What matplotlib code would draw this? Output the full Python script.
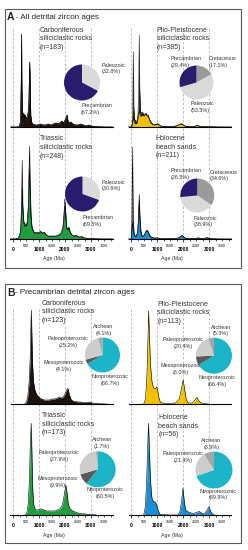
import matplotlib.pyplot as plt
from matplotlib.patches import Rectangle

plt.rcParams['font.family'] = ['Liberation Sans', 'DejaVu Sans']

W, H = 248, 550

# ---------------- datos: panel A (todas las edades) ----------------
# alturas en pixeles por encima de la linea base
carbA_age = [-100, 150, 250, 290, 315, 327, 340, 360, 390, 415, 440, 470, 500, 540, 580, 610, 630, 646, 660, 680,
             710, 760, 850, 950, 1050, 1150, 1250, 1350, 1450, 1550, 1650, 1720, 1800, 1880, 1950, 2000, 2040, 2080,
             2110, 2160, 2230, 2300, 2400, 2500, 2600, 2700, 2800, 2900, 3000, 3200, 3500, 3850]
carbA_h = [0, 0, 1, 6, 45, 93, 40, 12, 10, 14, 9, 12, 8, 10, 14, 25, 50, 65, 35, 12,
           5, 3, 2, 2, 3, 2, 2, 3, 2, 3, 4, 3, 4, 6, 4, 7, 9, 12,
           6, 4, 5, 3, 2, 2, 3, 2, 1, 2, 1, 0.5, 0, 0]

plioA_age = [-100, 0, 30, 60, 80, 100, 130, 170, 220, 260, 290, 308, 325, 360, 400, 440, 480, 520, 565, 610, 655,
             700, 760, 830, 900, 970, 1030, 1100, 1160, 1250, 1400, 1550, 1700, 1800, 1880, 1940, 2000, 2080, 2200,
             2350, 2480, 2550, 2620, 2750, 2900, 3100, 3400, 3850]
plioA_pdp = [0, 0, 2, 20, 75, 20, 8, 6, 6, 12, 40, 92, 40, 15, 14, 15, 12, 13, 14, 12, 12,
             8, 5, 3, 2, 3, 3.5, 1.5, 1, 0.5, 0.5, 0.5, 1, 2, 3, 3.5, 2, 1, 0.5,
             0.5, 1, 1.8, 1, 0.5, 0.3, 0.2, 0, 0]
plioA_kde = [0, 0, 1, 6, 9, 7, 4, 3, 4, 9, 14, 16, 14, 11, 11, 13, 11, 12, 13, 11, 11,
             7, 4, 2.5, 2, 2.5, 3, 1.2, 0.8, 0.4, 0.4, 0.4, 0.8, 1.8, 2.8, 3, 1.8, 0.8, 0.4,
             0.4, 0.8, 1.5, 0.8, 0.4, 0.2, 0.1, 0, 0]

triaA_age = [-100, 100, 200, 260, 300, 330, 353, 375, 410, 450, 500, 550, 590, 615, 635, 655, 690, 730, 790, 850,
             920, 980, 1060, 1120, 1200, 1260, 1350, 1450, 1550, 1650, 1750, 1850, 1920, 1960, 1990, 2020, 2060,
             2110, 2150, 2200, 2280, 2350, 2420, 2470, 2550, 2660, 2750, 2850, 2950, 3100, 3400, 3850]
triaA_pdp = [0, 0, 1, 4, 12, 40, 79, 35, 18, 15, 15, 17, 35, 70, 93, 60, 25, 12, 8, 6,
             7, 6, 8, 6, 7, 5, 3, 3, 3, 3, 4, 6, 12, 25, 40, 30, 12,
             10, 12, 7, 4, 3, 4, 3, 2, 2.5, 1, 0.8, 0.5, 0.3, 0, 0]
triaA_kde = [0, 0, 1, 3, 10, 30, 50, 30, 16, 13, 13, 15, 30, 55, 70, 50, 22, 11, 7, 5.5,
             6.5, 5.5, 7.5, 5.5, 6.5, 4.5, 2.8, 2.8, 2.8, 2.8, 3.6, 5.5, 11, 22, 33, 27, 11,
             9, 11, 6.5, 3.5, 2.8, 3.5, 2.8, 1.8, 2.2, 0.9, 0.7, 0.4, 0.2, 0, 0]

holoA_age = [-100, 0, 25, 50, 75, 110, 150, 200, 250, 285, 308, 330, 370, 420, 470, 520, 560, 600, 640, 690, 750,
             820, 900, 1000, 1100, 1200, 1400, 1600, 1750, 1850, 1920, 1970, 2020, 2100, 2250, 2400, 2500, 2580,
             2660, 2800, 2920, 3000, 3100, 3400, 3850]
holoA_pdp = [0, 0, 20, 92, 20, 6, 3, 3, 8, 25, 45, 25, 8, 3, 3, 5, 7.5, 9, 8, 5, 2.5,
             1.5, 1, 1.2, 0.5, 0.3, 0.3, 0.5, 0.8, 1.5, 3, 3.5, 2, 0.8, 0.4, 0.5, 0.8, 1.2,
             0.7, 0.6, 1.5, 0.8, 0.3, 0, 0]
holoA_kde = [0, 0, 10, 16, 10, 4, 2.5, 2.5, 7, 22, 38, 22, 7, 2.5, 2.5, 4.5, 7, 8.5, 7.5, 4.5, 2,
             1.2, 0.8, 1, 0.4, 0.2, 0.2, 0.4, 0.6, 1.3, 2.7, 3.2, 1.8, 0.6, 0.3, 0.4, 0.6, 1,
             0.6, 0.5, 1.3, 0.6, 0.2, 0, 0]

# ---------------- datos: panel B (solo precambrico) ----------------
carbB_age = [450, 520, 570, 620, 660, 690, 705, 720, 750, 790, 840, 900, 960, 1030, 1100, 1200, 1300, 1400, 1500,
             1600, 1700, 1790, 1860, 1930, 2000, 2060, 2110, 2160, 2220, 2300, 2400, 2500, 2600, 2700, 2800,
             2940, 3050, 3200, 3400, 3600]
carbB_h = [0, 2, 8, 22, 45, 80, 94, 75, 40, 22, 14, 10, 8, 6, 5, 4, 4, 4, 5,
           5, 6, 7, 6, 7, 10, 14, 15.7, 10, 5, 3, 2.5, 2, 2, 1.5, 1.5,
           2, 1, 0.7, 0.2, 0]

plioB_age = [480, 550, 600, 640, 670, 700, 740, 800, 860, 920, 970, 1010, 1060, 1120, 1200, 1300, 1500, 1700, 1850,
             1930, 2000, 2060, 2120, 2200, 2350, 2450, 2530, 2600, 2700, 2800, 3000]
plioB_h = [0, 5, 25, 60, 93, 70, 40, 22, 16, 15, 17, 15, 7, 2, 1, 0.5, 0.5, 1, 5,
           15, 24, 14, 4, 1, 1, 4, 6.7, 3, 1, 0.3, 0]

triaB_age = [480, 540, 590, 630, 665, 700, 730, 760, 800, 860, 950, 1050, 1100, 1200, 1300, 1400, 1500, 1600, 1700,
             1800, 1900, 1970, 2030, 2080, 2130, 2200, 2300, 2400, 2500, 2600, 2800, 3000, 3200]
triaB_h = [0, 3, 12, 35, 70, 91.7, 60, 25, 10, 5, 5, 6, 6, 5, 4, 4, 4, 4, 5,
           6, 10, 20, 30, 22, 10, 6, 4, 3, 2, 1.5, 1, 0.5, 0]

holoB_age = [480, 540, 590, 630, 665, 700, 740, 790, 850, 900, 950, 1000, 1060, 1120, 1500, 1800, 1880, 1940, 1990,
             2040, 2090, 2200, 2300, 2400, 2550, 2630, 2700, 2800, 2900, 2990, 3050, 3120, 3200]
holoB_h = [0, 8, 30, 65, 91.7, 65, 35, 18, 13, 13.5, 12, 8, 3, 0.5, 0, 0, 4, 14, 27,
           14, 5, 3, 2, 1.5, 3, 3.5, 2, 1, 4, 8.3, 4, 1, 0]

# tortas
pieA_labels_carb = ['Paleozoic', 'Precambrian']
pieA_vals_carb = [32.8, 67.2]
pieA_labels_plio = ['Cretaceous', 'Paleozoic', 'Precambrian']
pieA_vals_plio = [17.1, 53.5, 29.4]
pieA_vals_tria = [30.6, 69.5]
pieA_vals_holo = [34.6, 38.9, 26.5]

pieB_labels = ['Neoproterozoic', 'Mesoproterozoic', 'Paleoproterozoic', 'Archean']
pieB_vals_carb = [66.7, 4.1, 25.2, 4.1]
pieB_vals_plio = [66.4, 8.0, 20.4, 5.3]
pieB_vals_tria = [60.5, 9.9, 27.9, 1.7]
pieB_vals_holo = [69.9, 0.0, 21.4, 8.9]

# colores
C_CARB = '#1c130e'
C_PLIO = '#f5c000'
C_TRIA = '#1f9e3e'
C_HOLO = '#1b8ed6'
NAVY, LGRAY, MGRAY = '#2b1b6e', '#dadada', '#9a9a9a'
TEAL, PALEO, MESO, ARCH = '#1cb4c9', '#cdcdcd', '#595959', '#a6a6a6'
TXT = '#333333'

fig = plt.figure(figsize=(W / 100, H / 100), dpi=100)


def fx(x):
    return x / W


def fy(y):
    return 1 - y / H


def new_ax(x0, top, bottom):
    # x0 = pixel donde cae la edad 0 ; 26 px por cada 1000 Ma
    ax = fig.add_axes([fx(x0 - 5), fy(bottom), 112 / W, (bottom - top) / H])
    ax.set_xlim(-5 / 26 * 1000, 107 / 26 * 1000)
    ax.set_ylim(0, bottom - top)
    ax.patch.set_visible(False)
    for s in ['left', 'right', 'top', 'bottom']:
        ax.spines[s].set_visible(False)
    ax.set_yticks([])
    ax.set_xticks([])
    return ax


def dashed(x0, top, bottom):
    ax = new_ax(x0, top, bottom)
    for a in [0, 1000, 2000, 3000]:
        ax.axvline(a, color='#b5b5b5', lw=0.6, ls=(0, (3, 2.2)))


def curve(ax, age, kde, color, pdp=None):
    if pdp is not None:
        ax.fill_between(age, pdp, color='#2a2a2a', lw=0, clip_on=False)
        ax.plot(age, pdp, color='k', lw=0.35, clip_on=False)
    ax.fill_between(age, kde, color=color, lw=0, clip_on=False)
    ax.plot(age, kde, color='k', lw=0.4, clip_on=False)


def baseline(ax):
    ax.plot([-80, 3850], [0, 0], color='k', lw=0.8, clip_on=False)


def age_axis(ax, label_y):
    ax.spines['bottom'].set_visible(True)
    ax.spines['bottom'].set_bounds(-100, 3850)
    ax.spines['bottom'].set_linewidth(0.8)
    ax.set_xticks([0, 1000, 2000, 3000], ['0', '1000', '2000', '3000'],
                  fontsize=3.6, fontweight='bold')
    minor = [250, 500, 750, 1250, 1500, 1750, 2250, 2500, 2750, 3250, 3500, 3750]
    ax.set_xticks(minor, minor=True)
    ax.set_xticklabels(['', '500', '', '', '1500', '', '', '2500', '', '', '3500', ''],
                       minor=True, fontsize=2.6)
    ax.tick_params(which='major', length=2.4, width=0.5, pad=3.2, colors='k')
    ax.tick_params(which='minor', length=1.6, width=0.45, pad=2.2, colors='k')
    ax.text(1570, label_y, 'Age (Ma)', ha='center', va='center', fontsize=3.8, color=TXT)


def pie(cx, cy, r, vals, cols):
    ax = fig.add_axes([fx(cx - r), fy(cy + r), 2 * r / W, 2 * r / H])
    ax.pie(vals, colors=cols, startangle=90, counterclock=False,
           wedgeprops=dict(linewidth=0))
    ax.set_xlim(-1, 1)
    ax.set_ylim(-1, 1)


def txt(x, y, s, size=3.9, ha='left', ls=1.4):
    fig.text(fx(x), fy(y), s, fontsize=size, ha=ha, va='center', color=TXT,
             linespacing=ls, multialignment=ha)


# marcos de los paneles
for top, bottom in [(9, 268), (284, 543)]:
    fig.add_artist(Rectangle((fx(5), fy(bottom)), 236 / W, (bottom - top) / H,
                             transform=fig.transFigure, fill=False, ec='#5a5a5a', lw=0.8))

# ================= Panel A =================
fig.text(fx(7), fy(17), 'A', fontsize=7.5, fontweight='bold', va='center', color='#222222')
fig.text(fx(16), fy(17.5), '- All detrital zircon ages', fontsize=5.8, va='center', color='#222222')

XL, XR = 13, 131.2
dashed(XL, 28, 239)
dashed(XR, 28, 239)

ax = new_ax(XL, 28, 127)
curve(ax, carbA_age, carbA_h, C_CARB, pdp=carbA_h)
baseline(ax)
ax = new_ax(XR, 28, 127)
curve(ax, plioA_age, plioA_kde, C_PLIO, pdp=plioA_pdp)
baseline(ax)
ax = new_ax(XL, 140, 239)
curve(ax, triaA_age, triaA_kde, C_TRIA, pdp=triaA_pdp)
age_axis(ax, -19.3)
ax = new_ax(XR, 140, 239)
curve(ax, holoA_age, holoA_kde, C_HOLO, pdp=holoA_pdp)
age_axis(ax, -19.3)

txt(39.5, 38.5, 'Carboniferous\nsiliciclastic rocks\n(n=183)', size=5, ls=1.3)
txt(156.7, 39, 'Plio-Pleistocene\nsiliciclastic rocks\n(n=385)', size=5, ls=1.3)
txt(39.5, 147.5, 'Triassic\nsiliciclastic rocks\n(n=248)', size=5, ls=1.3)
txt(155.7, 147, 'Holocene\nbeach sands\n(n=211)', size=5, ls=1.3)

pie(82, 82.5, 18, pieA_vals_carb, [LGRAY, NAVY])
pie(196.5, 82.5, 17, pieA_vals_plio, [MGRAY, LGRAY, NAVY])
pie(82.5, 194, 17.5, pieA_vals_tria, [LGRAY, NAVY])
pie(197.3, 195.5, 17, pieA_vals_holo, [MGRAY, LGRAY, NAVY])

txt(102, 68.5, 'Paleozoic\n(32.8%)')
txt(81, 109, 'Precambrian\n(67.2%)')
txt(170.7, 62.2, 'Precambrian\n(29.4%)')
txt(209, 62.2, 'Cretaceous\n(17.1%)')
txt(190.7, 107, 'Paleozoic\n(53.5%)')
txt(101.7, 185.5, 'Paleozoic\n(30.6%)')
txt(82.7, 221, 'Precambrian\n(69.5%)')
txt(170.7, 173.7, 'Precambrian\n(26.5%)')
txt(210, 175.5, 'Cretaceous\n(34.6%)')
txt(194, 221.3, 'Paleozoic\n(38.9%)')

# ================= Panel B =================
fig.text(fx(7), fy(292.5), 'B', fontsize=7.5, fontweight='bold', va='center', color='#222222')
fig.text(fx(15), fy(293), '- Precambrian detrital zircon ages', fontsize=5.8, va='center', color='#222222')

dashed(XL, 308, 515)
dashed(XR, 308, 515)

ax = new_ax(XL, 308, 404)
curve(ax, carbB_age, carbB_h, C_CARB)
baseline(ax)
ax = new_ax(XR, 308, 404)
curve(ax, plioB_age, plioB_h, C_PLIO)
baseline(ax)
ax = new_ax(XL, 419, 515)
curve(ax, triaB_age, triaB_h, C_TRIA)
age_axis(ax, -21)
ax = new_ax(XR, 419, 515)
curve(ax, holoB_age, holoB_h, C_HOLO)
age_axis(ax, -21)

txt(41.7, 311.7, 'Carboniferous\nsiliciclastic rocks\n(n=123)', size=5, ls=1.3)
txt(157.3, 313, 'Plio-Pleistocene\nsiliciclastic rocks\n(n=113)', size=5, ls=1.3)
txt(41.7, 424.3, 'Triassic\nsiliciclastic rocks\n(n=173)', size=5, ls=1.3)
txt(158.3, 426, 'Holocene\nbeach sands\n(n=56)', size=5, ls=1.3)

colsB = [TEAL, MESO, PALEO, ARCH]
pie(102.5, 355, 17.5, pieB_vals_carb, colsB)
pie(214, 355.7, 18, pieB_vals_plio, colsB)
pie(97.7, 469.3, 18, pieB_vals_tria, colsB)
pie(214, 470, 18.5, pieB_vals_holo, colsB)

txt(103.3, 329.7, 'Archean\n(4.1%)', ha='center')
txt(68.3, 342.2, 'Paleoproterozoic\n(25.2%)', ha='center')
txt(63.3, 366.2, 'Mesoproterozoic\n(4.1%)', ha='center')
txt(110, 379.7, 'Neoproterozoic\n(66.7%)', ha='center')

txt(220.7, 330.5, 'Archean\n(5.3%)', ha='center')
txt(183.3, 343, 'Paleoproterozoic\n(20.4%)', ha='center')
txt(180.7, 368.8, 'Mesoproterozoic\n(8.0%)', ha='center')
txt(216.7, 381.2, 'Neoproterozoic\n(66.4%)', ha='center')

txt(101.7, 442.8, 'Archean\n(1.7%)', ha='center')
txt(59.3, 456.2, 'Paleoproterozoic\n(27.9%)', ha='center')
txt(57.3, 481.7, 'Mesoproterozoic\n(9.9%)', ha='center')
txt(105, 492.8, 'Neoproterozoic\n(60.5%)', ha='center')

txt(211.3, 443.8, 'Archean\n(8.9%)', ha='center')
txt(183.3, 457.2, 'Paleoproterozoic\n(21.4%)', ha='center')
txt(218, 494.7, 'Neoproterozoic\n(69.9%)', ha='center')

fig.savefig('out.png', dpi=100)
